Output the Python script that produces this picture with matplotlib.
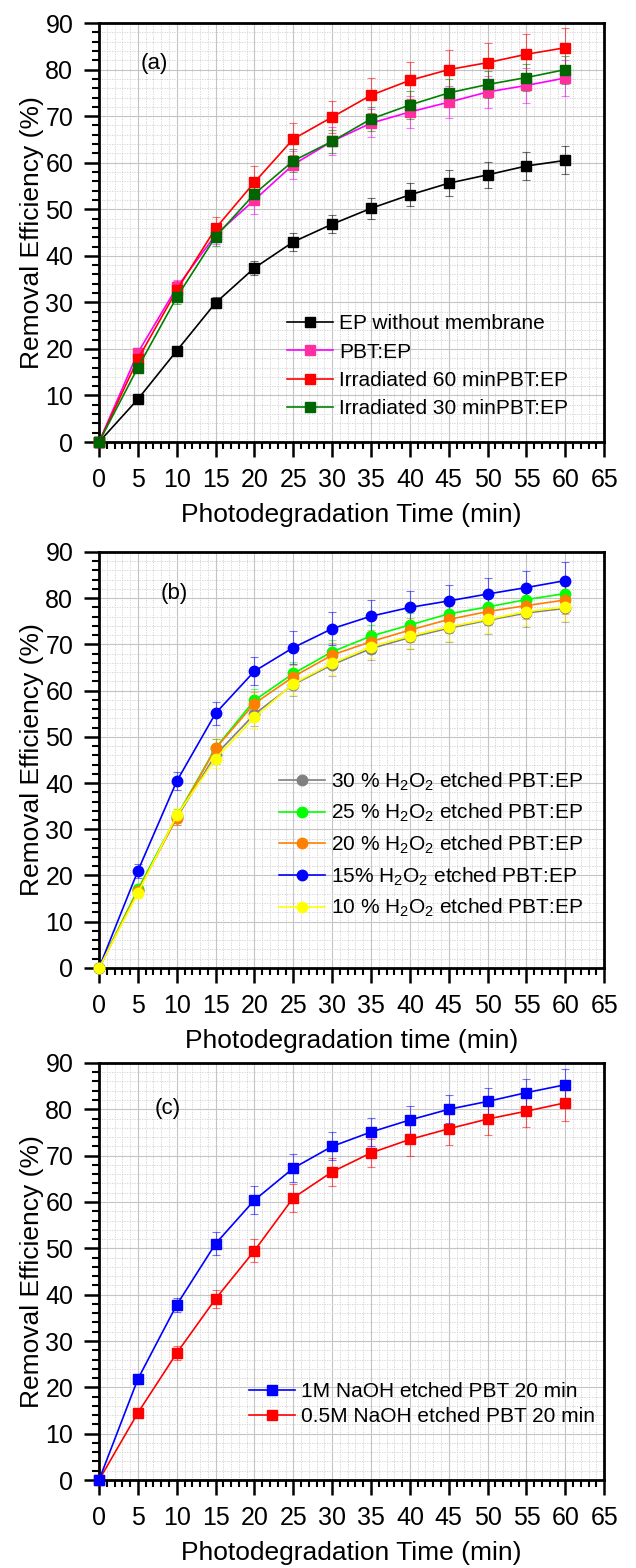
import numpy as np
import matplotlib.pyplot as plt
from matplotlib.ticker import MultipleLocator

plt.rcParams['font.family'] = ['Liberation Sans', 'DejaVu Sans']
plt.rcParams['mathtext.fontset'] = 'custom'
plt.rcParams['mathtext.rm'] = 'Liberation Sans'
plt.rcParams['mathtext.default'] = 'regular'

# time points (min)
t = [0, 5, 10, 15, 20, 25, 30, 35, 40, 45, 50, 55, 60]

# (a) removal efficiency (%)
ep_no_mem = [0, 9.2, 19.6, 29.9, 37.4, 43.0, 46.8, 50.2, 53.1, 55.6, 57.4, 59.3, 60.5]
pbt_ep = [0, 19.2, 33.2, 44.5, 52.0, 59.6, 64.6, 68.5, 70.9, 73.0, 75.2, 76.6, 78.2]
irr60 = [0, 17.8, 32.6, 45.9, 55.8, 65.1, 69.8, 74.5, 77.7, 80.0, 81.5, 83.3, 84.7]
irr30 = [0, 16.0, 31.1, 44.1, 53.3, 60.4, 64.6, 69.4, 72.4, 75.0, 76.8, 78.3, 80.0]
err_ep = [0, 0.8, 1.0, 1.2, 1.5, 2.0, 2.0, 2.3, 2.5, 2.8, 2.8, 3.0, 3.0]
err_pbt = [0, 1.0, 1.5, 2.0, 3.0, 3.0, 3.0, 3.0, 3.5, 3.5, 3.5, 3.8, 3.8]
err_60 = [0, 1.5, 2.0, 2.5, 3.5, 3.5, 3.5, 3.8, 4.0, 4.2, 4.2, 4.3, 4.3]
err_30 = [0, 1.0, 1.5, 2.0, 2.0, 2.5, 2.5, 2.5, 3.0, 3.0, 3.0, 3.0, 3.0]

# (b) H2O2 etched membranes
h30 = [0, 16.8, 32.5, 46.1, 54.9, 61.3, 65.6, 69.1, 71.5, 73.5, 75.2, 76.8, 77.8]
h25 = [0, 17.0, 32.8, 47.6, 57.9, 63.7, 68.4, 71.8, 74.2, 76.6, 78.1, 79.7, 81.0]
h20 = [0, 16.6, 32.5, 47.5, 57.2, 63.0, 67.7, 70.6, 73.1, 75.4, 77.1, 78.4, 79.6]
h15 = [0, 21.0, 40.4, 55.1, 64.2, 69.3, 73.4, 76.1, 78.0, 79.4, 80.9, 82.3, 83.8]
h10 = [0, 16.2, 33.0, 45.3, 54.2, 61.5, 65.9, 69.5, 71.8, 73.8, 75.4, 77.1, 78.1]
err_h30 = [0, 1.0, 1.5, 2.0, 2.5, 2.5, 2.5, 2.5, 2.5, 3.0, 3.0, 3.0, 3.0]
err_h25 = [0, 1.0, 1.5, 2.0, 2.5, 2.5, 2.5, 2.5, 2.5, 3.0, 3.0, 3.0, 3.0]
err_h20 = [0, 1.0, 1.5, 2.0, 2.5, 2.5, 2.5, 2.5, 2.5, 3.0, 3.0, 3.0, 3.0]
err_h15 = [0, 1.5, 2.0, 2.5, 3.0, 3.5, 3.5, 3.5, 3.5, 3.5, 3.5, 3.5, 4.0]
err_h10 = [0, 1.0, 1.5, 2.0, 2.5, 2.5, 2.5, 2.5, 2.5, 3.0, 3.0, 3.0, 3.0]

# (c) NaOH etched membranes
naoh1 = [0, 21.8, 37.8, 51.0, 60.4, 67.3, 72.0, 75.1, 77.7, 80.0, 81.7, 83.6, 85.3]
naoh05 = [0, 14.5, 27.4, 39.1, 49.5, 60.9, 66.5, 70.6, 73.5, 75.8, 77.9, 79.6, 81.4]
err_n1 = [0, 1.0, 1.5, 2.5, 3.0, 3.0, 3.0, 3.0, 3.0, 3.0, 3.0, 3.0, 3.5]
err_n05 = [0, 1.0, 1.5, 2.0, 2.5, 3.0, 3.0, 3.0, 3.5, 3.5, 3.5, 3.5, 4.0]


fig = plt.figure(figsize=(6.36, 15.68), dpi=100)
ax_a = fig.add_axes([0.1557, 0.7181, 0.7943, 0.2672])
ax_b = fig.add_axes([0.1557, 0.3827, 0.7943, 0.2653])
ax_c = fig.add_axes([0.1557, 0.0561, 0.7943, 0.2660])


def style(ax, xlabel, tag, tag_xy):
    ax.set_xlim(0, 65)
    ax.set_ylim(0, 90)
    ax.xaxis.set_major_locator(MultipleLocator(5))
    ax.xaxis.set_minor_locator(MultipleLocator(1))
    ax.yaxis.set_major_locator(MultipleLocator(10))
    ax.yaxis.set_minor_locator(MultipleLocator(2))
    ax.tick_params(which='major', direction='out', length=11, width=1.8,
                   labelsize=18, pad=7.5)
    ax.tick_params(which='minor', direction='out', length=5, width=1.5)
    ax.tick_params(top=False, right=False)
    ax.grid(which='major', color='#c4c4c4', lw=0.8, ls='-')
    ax.grid(which='minor', color='#d0d0d0', lw=0.6, ls=(0, (1.5, 1.5)))
    ax.set_axisbelow(True)
    for s in ax.spines.values():
        s.set_linewidth(2.0)
    ax.set_xlabel(xlabel, fontsize=19, labelpad=8)
    ax.set_ylabel('Removal Efficiency (%)', fontsize=19, labelpad=1)
    ax.text(tag_xy[0], tag_xy[1], tag, fontsize=16, ha='center', va='center')


def series(ax, y, err, lc, mc, marker, ms, label):
    ax.errorbar(t, y, yerr=err, fmt='none', ecolor=lc, elinewidth=0.8,
                capsize=3, capthick=0.8, alpha=0.55, clip_on=False)
    line, = ax.plot(t, y, '-', color=lc, lw=1.2, marker=marker, ms=ms,
                    mfc=mc, mec=mc, label=label, clip_on=False, zorder=3)
    return line


# (a)
h = []
h.append(series(ax_a, ep_no_mem, err_ep, 'black', 'black', 's', 6.5, 'EP without membrane'))
h.append(series(ax_a, pbt_ep, err_pbt, '#ff00ff', '#ff2fa0', 's', 6.5, 'PBT:EP'))
h.append(series(ax_a, irr60, err_60, '#ff0000', '#ff0000', 's', 6.5, 'Irradiated 60 minPBT:EP'))
h.append(series(ax_a, irr30, err_30, '#008000', '#006400', 's', 6.5, 'Irradiated 30 minPBT:EP'))
ax_a.legend(handles=h, loc='upper left', bbox_to_anchor=(0.355, 0.325), frameon=False,
            fontsize=15, handlelength=2.2, handletextpad=0.3, labelspacing=0.45,
            borderaxespad=0)
style(ax_a, 'Photodegradation Time (min)', '(a)', (7.1, 81.4))

# (b)
h = []
sub = 'H$_2$O$_2$'
h.append(series(ax_b, h30, err_h30, '#808080', '#808080', 'o', 7.5, '30 % ' + sub + ' etched PBT:EP'))
h.append(series(ax_b, h25, err_h25, '#00ff00', '#00ff00', 'o', 7.5, '25 % ' + sub + ' etched PBT:EP'))
h.append(series(ax_b, h20, err_h20, '#ff8000', '#ff8000', 'o', 7.5, '20 % ' + sub + ' etched PBT:EP'))
h.append(series(ax_b, h15, err_h15, '#0000ff', '#0000ff', 'o', 7.5, '15% ' + sub + ' etched PBT:EP'))
h.append(series(ax_b, h10, err_h10, '#ffff00', '#ffff00', 'o', 7.5, '10 % ' + sub + ' etched PBT:EP'))
ax_b.legend(handles=h, loc='upper left', bbox_to_anchor=(0.34, 0.495), frameon=False,
            fontsize=15, handlelength=2.2, handletextpad=0.3, labelspacing=0.45,
            borderaxespad=0)
style(ax_b, 'Photodegradation time (min)', '(b)', (9.7, 80.9))

# (c)
l05 = series(ax_c, naoh05, err_n05, '#ff0000', '#ff0000', 's', 6.5, '0.5M NaOH etched PBT 20 min')
l1 = series(ax_c, naoh1, err_n1, '#0000ff', '#0000ff', 's', 6.5, '1M NaOH etched PBT 20 min')
ax_c.legend(handles=[l1, l05], loc='upper left', bbox_to_anchor=(0.28, 0.255), frameon=False,
            fontsize=15, handlelength=2.2, handletextpad=0.3, labelspacing=0.3,
            borderaxespad=0)
style(ax_c, 'Photodegradation Time (min)', '(c)', (8.8, 80.1))

fig.savefig('out.png', dpi=100)
